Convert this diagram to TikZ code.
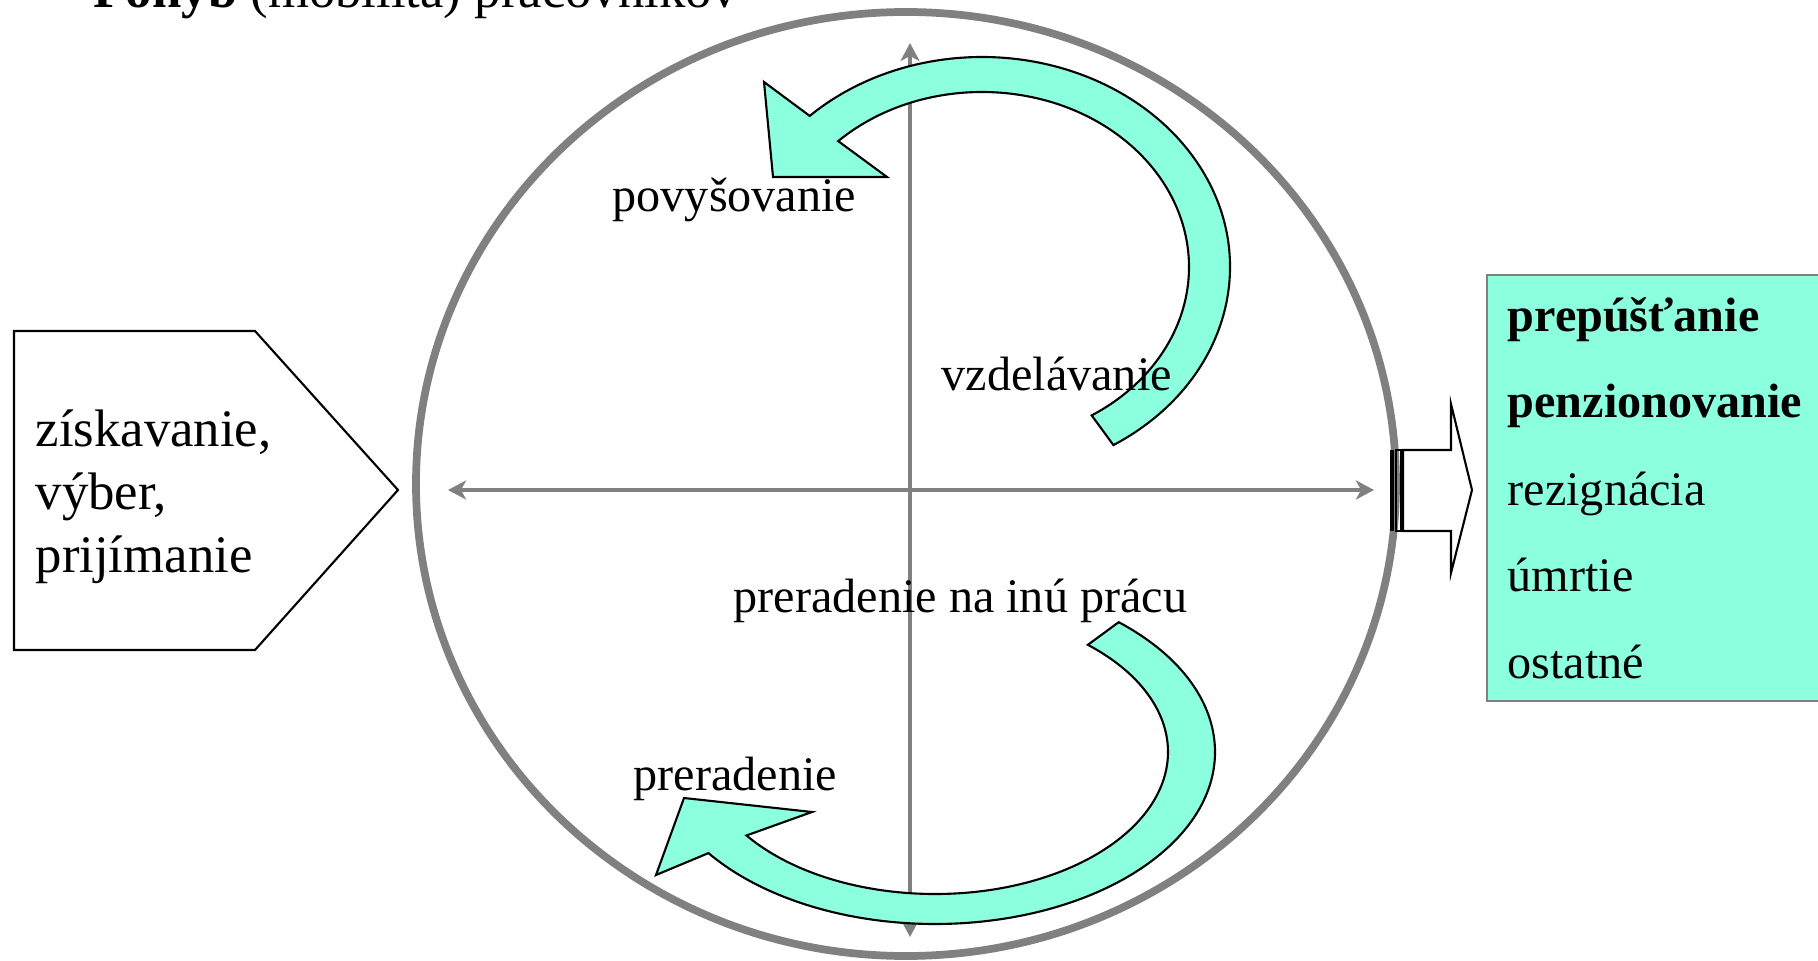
\documentclass[tikz,border=0pt]{standalone}
\usepackage{fontspec}
\setmainfont{Liberation Serif}
\usetikzlibrary{arrows.meta}
\definecolor{mint}{HTML}{8CFFDF}
\definecolor{rimgray}{HTML}{808080}

\begin{document}
\begin{tikzpicture}[x=0.01cm,y=-0.01cm,
lbl/.style={inner sep=0,anchor=base west,font=\fontsize{13.7pt}{16pt}\selectfont},
biglbl/.style={inner sep=0,anchor=base west,font=\fontsize{15pt}{18pt}\selectfont},
axis/.style={draw=rimgray,line width=1.4pt,<->,
>={Stealth[length=1.8mm,width=1.9mm,inset=0.5mm]}},
band/.style={draw=black,fill=mint,line width=0.6pt},
plain/.style={draw=black,line width=0.6pt}
]
\useasboundingbox (0,0) rectangle (1818,961);
\clip (0,0) rectangle (1818,961);

% big circle and the two axes
\draw[rimgray,line width=2.2pt] (906,484) ellipse[x radius=490,y radius=472];
\coordinate (hl) at (448,490);
\coordinate (hr) at (1374,490);
\coordinate (vt) at (910,43);
\coordinate (vb) at (910,937);
\draw[axis] (hl) -- (hr);
\draw[axis] (vt) -- (vb);

% striped arrow out of the circle
\fill (1390,450) rectangle (1394,531);
\draw[plain] (1396,450) rectangle (1401,531);
\draw[plain] (1403,450) -- (1451,450) -- (1451,404) -- (1472,490)
  -- (1451,573) -- (1451,531) -- (1403,531) -- cycle;

% entry pentagon
\draw[plain] (14,331) -- (255,331) -- (398,490) -- (255,650) -- (14,650) -- cycle;

% exit box
\draw[rimgray,fill=mint,line width=0.7pt] (1487,275) rectangle (1830,701);

% upper curved arrow
\draw[band] ([shift={(982,267)}]58:248 and 210)
  arc[start angle=58,end angle=-134,x radius=248,y radius=210]
  -- (764,82) -- (773,177) -- (887,177)
  -- ([shift={(982,267)}]-134:207 and 175)
  arc[start angle=-134,end angle=58,x radius=207,y radius=175] -- cycle;

% lower curved arrow
\draw[band] ([shift={(935,752)}]-49:280 and 172)
  arc[start angle=-49,end angle=144,x radius=280,y radius=172]
  -- (656,875) -- (684,798) -- (812,812)
  -- ([shift={(935,752)}]144:233 and 142)
  arc[start angle=144,end angle=-49,x radius=233,y radius=142] -- cycle;

% texts
\node[biglbl] (title) at (93,8) {\textbf{Pohyb} (mobilita) pracovníkov};
\node[biglbl] (in1) at (35,447) {získavanie,};
\node[biglbl] (in2) at (35,510) {výber,};
\node[biglbl] (in3) at (35,573) {prijímanie};
\node[lbl] (up)   at (612,212) {povyšovanie};
\node[lbl] (edu)  at (941,391) {vzdelávanie};
\node[lbl] (move) at (733,612) {preradenie na inú prácu};
\node[lbl] (down) at (633,790) {preradenie};
\node[lbl] (out1) at (1507,332) {\textbf{prepúšťanie}};
\node[lbl] (out2) at (1507,418) {\textbf{penzionovanie}};
\node[lbl] (out3) at (1507,505) {rezignácia};
\node[lbl] (out4) at (1507,591) {úmrtie};
\node[lbl] (out5) at (1507,678) {ostatné};
\end{tikzpicture}
\end{document}
